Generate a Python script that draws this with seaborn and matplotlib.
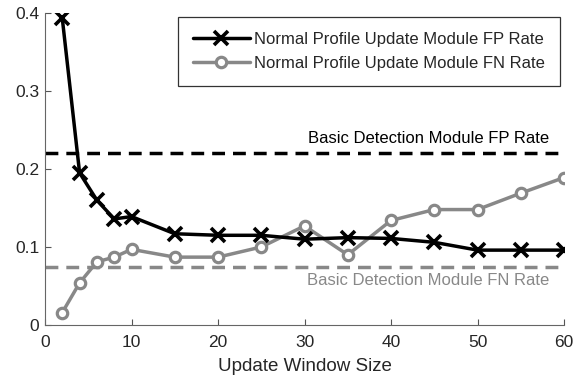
import matplotlib
matplotlib.use("Agg")
import matplotlib.pyplot as plt
import seaborn as sns
import pandas as pd

# Update window sizes evaluated
window_size = [2, 4, 6, 8, 10, 15, 20, 25, 30, 35, 40, 45, 50, 55, 60]
# Normal profile update module error rates
fp_rate = [0.393, 0.195, 0.160, 0.136, 0.139, 0.117, 0.115, 0.115, 0.110, 0.112,
           0.111, 0.106, 0.096, 0.096, 0.096]
fn_rate = [0.016, 0.054, 0.081, 0.087, 0.097, 0.087, 0.087, 0.100, 0.127, 0.090,
           0.134, 0.148, 0.148, 0.169, 0.189]
# Basic detection module reference rates
basic_fp = 0.220
basic_fn = 0.0745

fp_label = "Normal Profile Update Module FP Rate"
fn_label = "Normal Profile Update Module FN Rate"

sns.set_style("ticks")
plt.rcParams["font.family"] = ["Liberation Sans", "DejaVu Sans"]

df = pd.DataFrame({
    "window": window_size * 2,
    "rate": fp_rate + fn_rate,
    "series": [fp_label] * len(window_size) + [fn_label] * len(window_size),
})

fig = plt.figure(figsize=(5.85, 3.8), dpi=100)
ax = fig.add_axes([45 / 585, 55 / 380, 519 / 585, 312 / 380])

gray = "#888888"
dash = (0, (3.7, 2.3))
ax.axhline(basic_fp, color="black", lw=2.5, ls=dash, zorder=1)
ax.axhline(basic_fn, color=gray, lw=2.5, ls=dash, zorder=1)

sns.lineplot(data=df[df.series == fp_label], x="window", y="rate", ax=ax,
             color="black", lw=2.5, marker="x", markersize=10.5, mew=2.6,
             markeredgecolor="black", label=fp_label, zorder=3)
sns.lineplot(data=df[df.series == fn_label], x="window", y="rate", ax=ax,
             color=gray, lw=2.5, marker="o", markersize=7.5, mew=2.3,
             markerfacecolor="white", markeredgecolor=gray, label=fn_label,
             zorder=2)

ax.text(44.3, basic_fp + 0.0188, "Basic Detection Module FP Rate", color="black",
        ha="center", va="center", fontsize=12)
ax.text(44.3, basic_fn - 0.0170, "Basic Detection Module FN Rate", color=gray,
        ha="center", va="center", fontsize=12)

ax.set_xlim(0, 60)
ax.set_ylim(0, 0.4)
ax.set_xticks([0, 10, 20, 30, 40, 50, 60])
ax.set_yticks([0, 0.1, 0.2, 0.3, 0.4])
ax.set_yticklabels(["0", "0.1", "0.2", "0.3", "0.4"])
ax.set_xlabel("Update Window Size", fontsize=13.5, labelpad=6)
ax.set_ylabel("")
ax.tick_params(direction="in", length=4, width=0.8, color="#555555",
               labelsize=12.5)
ax.tick_params(axis="x", pad=7)
ax.tick_params(axis="y", pad=4)
for side in ("top", "right"):
    ax.spines[side].set_visible(False)
for side in ("left", "bottom"):
    ax.spines[side].set_color("#666666")
    ax.spines[side].set_linewidth(0.8)

leg = ax.legend(loc="upper right", bbox_to_anchor=(0.992, 0.988),
                borderaxespad=0, fontsize=12, frameon=True, fancybox=False,
                edgecolor="black", handlelength=3.4, handletextpad=0.25,
                borderpad=0.9, labelspacing=0.55)
leg.get_frame().set_linewidth(0.9)

fig.savefig("out.png", dpi=100)
